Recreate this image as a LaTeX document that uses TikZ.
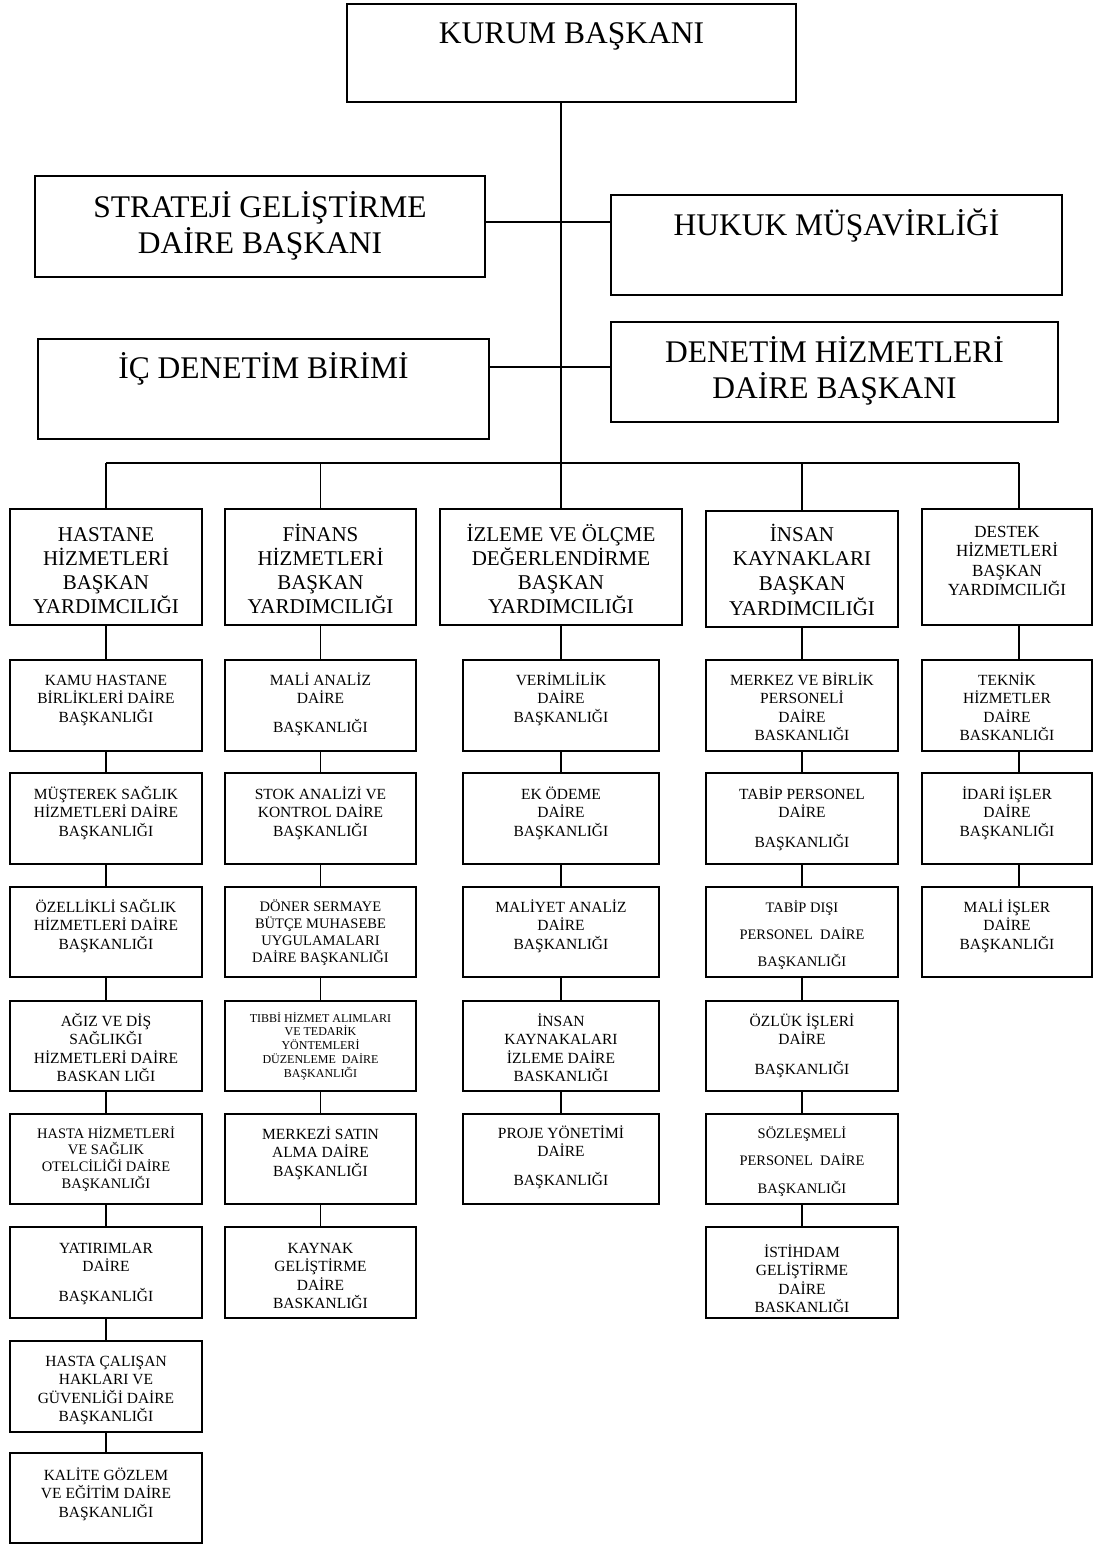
\documentclass[tikz,border=0pt]{standalone}
\usepackage{fontspec}
\setmainfont{Liberation Serif}

% font size / baseline skip shortcut
\newcommand{\fs}[2]{\fontsize{#1pt}{#2pt}\selectfont}
\newcommand{\std}{\fs{15.5}{18.5}}
\newcommand{\lvla}{\fs{21}{24.3}}
\newcommand{\topf}{\fs{31.5}{36.5}}

\tikzset{
  orgbox/.style={draw, line width=2pt, inner sep=0pt, outer sep=0pt},
  link/.style={line width=1.8pt}
}

% #1 name, #2 left, #3 top, #4 right, #5 bottom, #6 font, #7 first baseline below top, #8 text
\newcommand{\orgnode}[8]{%
  \node[orgbox] (#1) at ({(#2+#4)/2},{(#3+#5)/2})
  {\parbox[c][\dimexpr#5pt-#3pt\relax][t]{\dimexpr#4pt-#2pt\relax}{\centering#6\rule{0pt}{#7pt}#8\par}};}

\begin{document}
\begin{tikzpicture}[x=1pt,y=-1pt]
\fill[white] (0,0) rectangle (1093,1545);
\useasboundingbox (0,0) rectangle (1093,1545);

% ---- top management ----
\orgnode{kurum}{347}{4}{796}{102}{\topf}{39}{KURUM BAŞKANI}
\orgnode{strat}{35}{176}{485}{277}{\topf}{41}{STRATEJİ GELİŞTİRME\\DAİRE BAŞKANI}
\orgnode{hukuk}{611}{195}{1062}{295}{\topf}{40}{HUKUK MÜŞAVİRLİĞİ}
\orgnode{icden}{38}{339}{489}{439}{\topf}{39}{İÇ DENETİM BİRİMİ}
\orgnode{denhiz}{611}{322}{1058}{422}{\topf}{40}{DENETİM HİZMETLERİ\\DAİRE BAŞKANI}

% ---- vice presidencies ----
\orgnode{hastane}{10}{509}{202}{625}{\lvla}{32}{HASTANE\\HİZMETLERİ\\BAŞKAN\\YARDIMCILIĞI}
\orgnode{finans}{225}{509}{416}{625}{\lvla}{32}{FİNANS\\HİZMETLERİ\\BAŞKAN\\YARDIMCILIĞI}
\orgnode{izleme}{440}{509}{682}{625}{\lvla}{32}{İZLEME VE ÖLÇME\\DEĞERLENDİRME\\BAŞKAN\\YARDIMCILIĞI}
\orgnode{insan}{706}{511}{898}{627}{\fs{21}{24.7}}{30}{İNSAN\\KAYNAKLARI\\BAŞKAN\\YARDIMCILIĞI}
\orgnode{destek}{922}{509}{1092}{625}{\fs{17}{19.5}}{28}{DESTEK\\HİZMETLERİ\\BAŞKAN\\YARDIMCILIĞI}

% ---- hospital services departments ----
\orgnode{h1}{10}{660}{202}{751}{\std}{25}{KAMU HASTANE\\BİRLİKLERİ DAİRE\\BAŞKANLIĞI}
\orgnode{h2}{10}{773}{202}{864}{\std}{26}{MÜŞTEREK SAĞLIK\\HİZMETLERİ DAİRE\\BAŞKANLIĞI}
\orgnode{h3}{10}{887}{202}{977}{\std}{25}{ÖZELLİKLİ SAĞLIK\\HİZMETLERİ DAİRE\\BAŞKANLIĞI}
\orgnode{h4}{10}{1001}{202}{1091}{\std}{25}{AĞIZ VE DİŞ\\SAĞLIKĞI\\HİZMETLERİ DAİRE\\BASKAN LIĞI}
\orgnode{h5}{10}{1114}{202}{1204}{\fs{14.5}{16.8}}{24}{HASTA HİZMETLERİ\\VE SAĞLIK\\OTELCİLİĞİ DAİRE\\BAŞKANLIĞI}
\orgnode{h6}{10}{1227}{202}{1318}{\std}{26}{YATIRIMLAR\\DAİRE\\[11pt]BAŞKANLIĞI}
\orgnode{h7}{10}{1341}{202}{1432}{\std}{25}{HASTA ÇALIŞAN\\HAKLARI VE\\GÜVENLİĞİ DAİRE\\BAŞKANLIĞI}
\orgnode{h8}{10}{1453}{202}{1543}{\std}{27}{KALİTE GÖZLEM\\VE EĞİTİM DAİRE\\BAŞKANLIĞI}

% ---- finance departments ----
\orgnode{f1}{225}{660}{416}{751}{\std}{25}{MALİ ANALİZ\\DAİRE\\[10.5pt]BAŞKANLIĞI}
\orgnode{f2}{225}{773}{416}{864}{\std}{26}{STOK ANALİZİ VE\\KONTROL DAİRE\\BAŞKANLIĞI}
\orgnode{f3}{225}{887}{416}{977}{\fs{14.5}{17}}{24}{DÖNER SERMAYE\\BÜTÇE MUHASEBE\\UYGULAMALARI\\DAİRE BAŞKANLIĞI}
\orgnode{f4}{225}{1001}{416}{1091}{\fs{12}{13.8}}{21}{TIBBİ HİZMET ALIMLARI\\VE TEDARİK\\YÖNTEMLERİ\\DÜZENLEME\ \ DAİRE\\BAŞKANLIĞI}
\orgnode{f5}{225}{1114}{416}{1204}{\std}{25}{MERKEZİ SATIN\\ALMA DAİRE\\BAŞKANLIĞI}
\orgnode{f6}{225}{1227}{416}{1318}{\std}{26}{KAYNAK\\GELİŞTİRME\\DAİRE\\BASKANLIĞI}

% ---- monitoring and evaluation departments ----
\orgnode{i1}{463}{660}{659}{751}{\std}{25}{VERİMLİLİK\\DAİRE\\BAŞKANLIĞI}
\orgnode{i2}{463}{773}{659}{864}{\std}{26}{EK ÖDEME\\DAİRE\\BAŞKANLIĞI}
\orgnode{i3}{463}{887}{659}{977}{\std}{25}{MALİYET ANALİZ\\DAİRE\\BAŞKANLIĞI}
\orgnode{i4}{463}{1001}{659}{1091}{\std}{25}{İNSAN\\KAYNAKALARI\\İZLEME DAİRE\\BASKANLIĞI}
\orgnode{i5}{463}{1114}{659}{1204}{\std}{24}{PROJE YÖNETİMİ\\DAİRE\\[10.5pt]BAŞKANLIĞI}

% ---- human resources departments ----
\orgnode{n1}{706}{660}{898}{751}{\std}{25}{MERKEZ VE BİRLİK\\PERSONELİ\\DAİRE\\BASKANLIĞI}
\orgnode{n2}{706}{773}{898}{864}{\std}{26}{TABİP PERSONEL\\DAİRE\\[11.5pt]BAŞKANLIĞI}
\orgnode{n3}{706}{887}{898}{977}{\fs{14.5}{27}}{25}{TABİP DIŞI\\PERSONEL\ \ DAİRE\\BAŞKANLIĞI}
\orgnode{n4}{706}{1001}{898}{1091}{\std}{25}{ÖZLÜK İŞLERİ\\DAİRE\\[11pt]BAŞKANLIĞI}
\orgnode{n5}{706}{1114}{898}{1204}{\fs{14.5}{27.5}}{24}{SÖZLEŞMELİ\\PERSONEL\ \ DAİRE\\BAŞKANLIĞI}
\orgnode{n6}{706}{1227}{898}{1318}{\std}{30}{İSTİHDAM\\GELİŞTİRME\\DAİRE\\BASKANLIĞI}

% ---- support services departments ----
\orgnode{d1}{922}{660}{1092}{751}{\std}{25}{TEKNİK\\HİZMETLER\\DAİRE\\BASKANLIĞI}
\orgnode{d2}{922}{773}{1092}{864}{\std}{26}{İDARİ İŞLER\\DAİRE\\BAŞKANLIĞI}
\orgnode{d3}{922}{887}{1092}{977}{\std}{25}{MALİ İŞLER\\DAİRE\\BAŞKANLIĞI}

% ---- connectors ----
\coordinate (barC) at (561,463);
\coordinate (barR) at (1019,463);
\coordinate (barL) at (hastane.north |- barC);
\coordinate (rowA) at (0,222);
\coordinate (rowB) at (0,367);

\draw[link] (kurum.south -| barC) -- (barC);
\draw[link] (strat.east |- rowA) -- (hukuk.west |- rowA);
\draw[link] (icden.east |- rowB) -- (denhiz.west |- rowB);
\draw[link] (barL) -- (barR);

\foreach \v in {hastane,finans,insan}
  \draw[link] (\v.north |- barC) -- (\v.north);
\draw[link] (barC) -- (barC |- izleme.north);
\draw[link] (barR) -- (barR |- destek.north);

\foreach \a/\b in {hastane/h1,h1/h2,h2/h3,h3/h4,h4/h5,h5/h6,h6/h7,h7/h8,
                   finans/f1,f1/f2,f2/f3,f3/f4,f4/f5,f5/f6,
                   insan/n1,n1/n2,n2/n3,n3/n4,n4/n5,n5/n6}
  \draw[link] (\a.south) -- (\b.north);

\foreach \a/\b in {izleme/i1,i1/i2,i2/i3,i3/i4,i4/i5}
  \draw[link] (\a.south -| barC) -- (\b.north -| barC);

\foreach \a/\b in {destek/d1,d1/d2,d2/d3}
  \draw[link] (\a.south -| barR) -- (\b.north -| barR);
\end{tikzpicture}
\end{document}
